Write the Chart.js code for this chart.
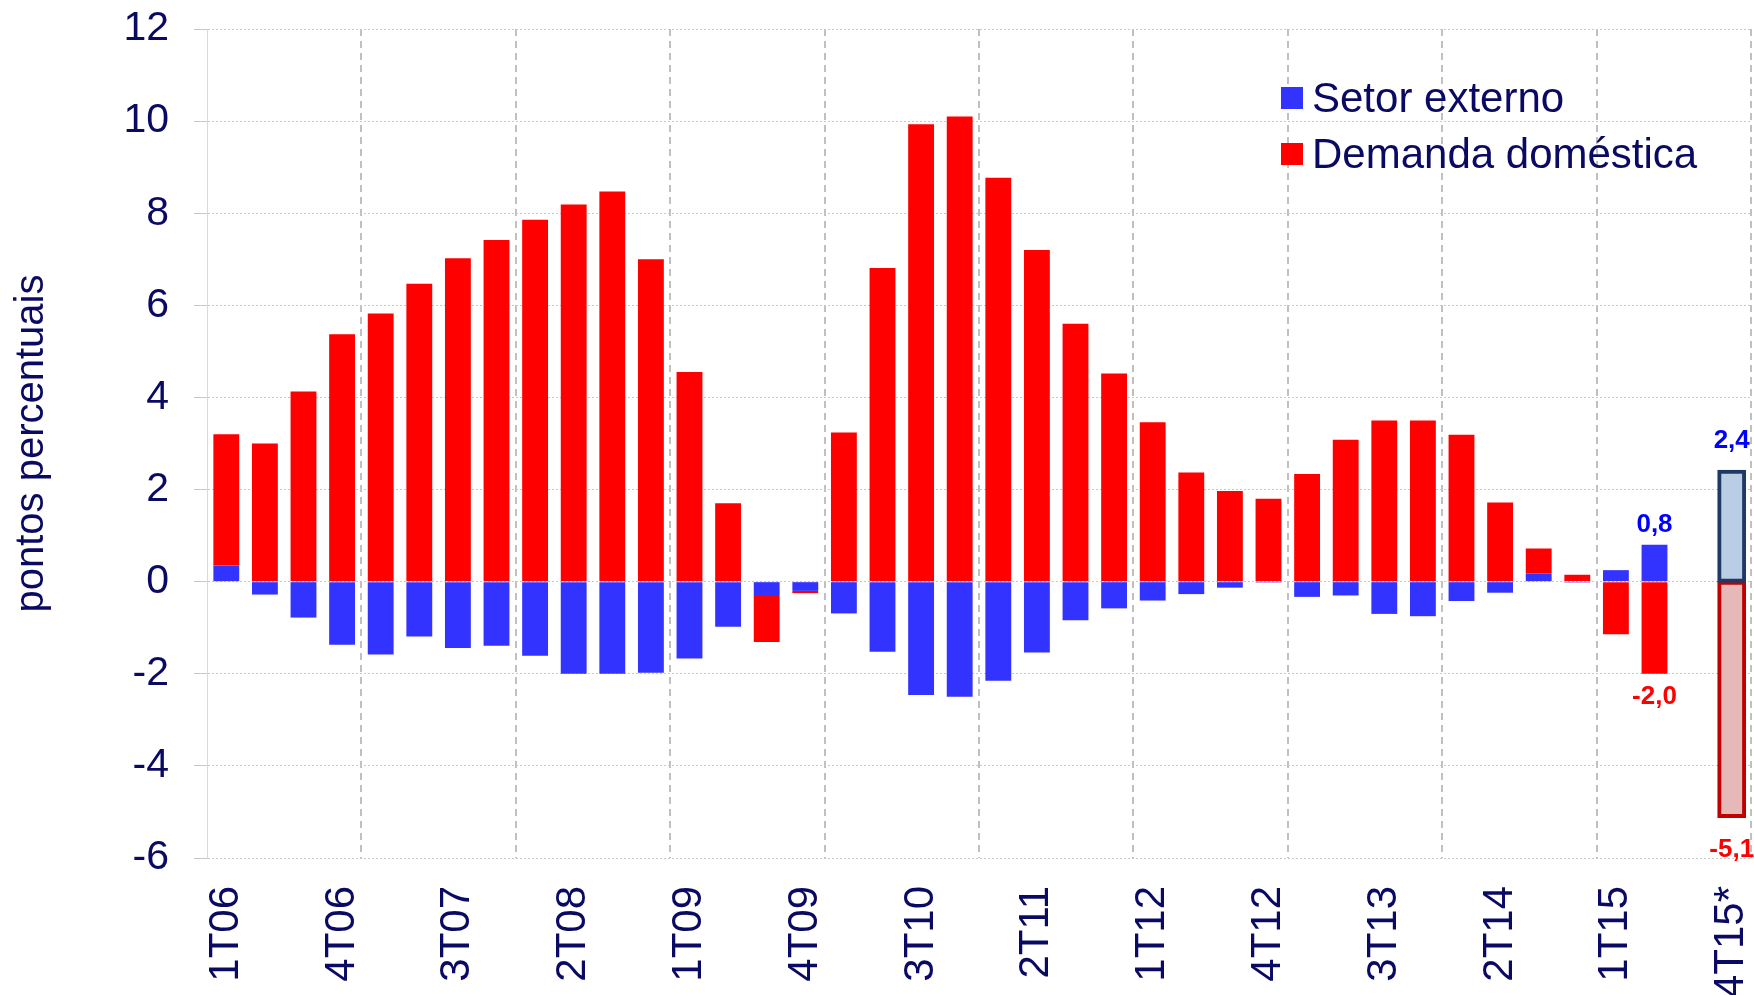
<!DOCTYPE html>
<html lang="pt-BR">
<head>
<meta charset="utf-8">
<title>Contribuição para o crescimento do PIB</title>
<script src="https://cdn.jsdelivr.net/npm/chart.js@4.4.1/dist/chart.umd.min.js"></script>
<style>
    html, body { margin: 0; padding: 0; background: #fff; overflow: hidden; }
    #wrap { position: relative; width: 1754px; height: 995px; }
    #legend { position: absolute; left: 1281px; top: 70px; font-family: 'Liberation Sans', Arial, sans-serif; font-size: 42px; color: #0a0a64; }
    #legend .item { display: flex; align-items: center; height: 56px; line-height: 56px; white-space: nowrap; }
    #legend .box { display: inline-block; width: 22px; height: 22px; margin-right: 9px; }
</style>
</head>
<body>
<div id="wrap">
    <canvas id="chart-contrib"></canvas>
    <div id="legend"></div>
</div>
<script>
const categories = [
    '1T06', '2T06', '3T06', '4T06', '1T07', '2T07', '3T07', '4T07',
    '1T08', '2T08', '3T08', '4T08', '1T09', '2T09', '3T09', '4T09',
    '1T10', '2T10', '3T10', '4T10', '1T11', '2T11', '3T11', '4T11',
    '1T12', '2T12', '3T12', '4T12', '1T13', '2T13', '3T13', '4T13',
    '1T14', '2T14', '3T14', '4T14', '1T15', '2T15', '3T15', '4T15*'
];

// contribuição em p.p. (demanda doméstica empilhada sobre o setor externo)
const setorExterno = [
    0.35, -0.28, -0.78, -1.37, -1.58, -1.19, -1.44, -1.39,
    -1.61, -2.0, -2.0, -1.98, -1.67, -0.98, -0.29, -0.2,
    -0.69, -1.52, -2.46, -2.5, -2.15, -1.54, -0.84, -0.58,
    -0.41, -0.27, -0.13, -0.02, -0.33, -0.3, -0.7, -0.75,
    -0.42, -0.24, 0.18, -0.02, 0.25, 0.8, null, 2.4
];
const demandaDomestica = [
    2.85, 3.0, 4.13, 5.37, 5.82, 6.47, 7.02, 7.42,
    7.86, 8.19, 8.47, 7.0, 4.55, 1.7, -1.02, -0.05,
    3.24, 6.81, 9.93, 10.1, 8.77, 7.2, 5.6, 4.52,
    3.46, 2.37, 1.97, 1.8, 2.34, 3.08, 3.5, 3.5,
    3.19, 1.72, 0.54, 0.15, -1.14, -2.0, null, -5.1
];

const yMin = -6;
const yMax = 12;
const yStep = 2;

const projection = '4T15*';
const labeledBars = ['2T15', '4T15*'];

const navy = '#0a0a64';
const isProj = i => categories[i] === projection;

Chart.defaults.font.family = "'Liberation Sans', Arial, sans-serif";
Chart.defaults.color = navy;

const barLabels = {
    id: 'barLabels',
    afterDatasetsDraw(chart) {
        const { ctx } = chart;
        ctx.save();
        ctx.font = "bold 26px 'Liberation Sans', Arial, sans-serif";
        ctx.textAlign = 'center';
        chart.data.datasets.forEach((ds, di) => {
            const meta = chart.getDatasetMeta(di);
            labeledBars.forEach(cat => {
                const i = categories.indexOf(cat);
                const v = ds.data[i];
                const bar = meta.data[i];
                if (v == null || !bar) return;
                const bw = isProj(i) ? 4 : 0;
                const y = v >= 0 ? bar.y - 13 - 2.5 * bw : bar.y + 30 + 2.5 * bw;
                ctx.fillStyle = ds.labelColor;
                ctx.fillText(v.toFixed(1).replace('.', ','), bar.x, y);
            });
        });
        ctx.restore();
    }
};

const chart = new Chart(document.getElementById('chart-contrib'), {
    type: 'bar',
    data: {
        labels: categories,
        datasets: [
            {
                label: 'Setor externo',
                data: setorExterno,
                backgroundColor: c => isProj(c.dataIndex) ? '#b9cde5' : '#3333ff',
                borderColor: c => isProj(c.dataIndex) ? '#1f3864' : '#3333ff',
                borderWidth: c => isProj(c.dataIndex) ? 4 : 0,
                inflateAmount: c => isProj(c.dataIndex) ? 1.5 : 'auto',
                borderSkipped: false,
                legendColor: '#3333ff',
                labelColor: '#0000ff',
            },
            {
                label: 'Demanda doméstica',
                data: demandaDomestica,
                backgroundColor: c => isProj(c.dataIndex) ? '#e6b9b8' : '#ff0000',
                borderColor: c => isProj(c.dataIndex) ? '#c00000' : '#ff0000',
                borderWidth: c => isProj(c.dataIndex) ? 4 : 0,
                inflateAmount: c => isProj(c.dataIndex) ? 1.5 : 'auto',
                borderSkipped: false,
                legendColor: '#ff0000',
                labelColor: '#ff0000',
            }
        ]
    },
    options: {
        responsive: true,
        maintainAspectRatio: false,
        animation: false,
        layout: { padding: { top: 29, right: 3, left: 0, bottom: 0 } },
        datasets: { bar: { categoryPercentage: 1, barPercentage: 0.67 } },
        scales: {
            x: {
                stacked: true,
                grid: {
                    offset: true,
                    drawTicks: false,
                    lineWidth: 2,
                    color: c => (c.index === undefined || (c.index > 0 && c.index % 4 === 0)) ? '#c0c0c0' : 'transparent',
                },
                border: { display: false, dash: [7, 5] },
                ticks: {
                    autoSkip: false,
                    minRotation: 90,
                    maxRotation: 90,
                    padding: 28,
                    font: { size: 42 },
                    callback: (v, i) => i % 3 === 0 ? categories[i] : '',
                },
                afterFit: s => { s.height = 137; s.paddingLeft = 0; s.paddingRight = 0; },
            },
            y: {
                stacked: true,
                min: yMin,
                max: yMax,
                ticks: { stepSize: yStep, padding: 25, font: { size: 41 } },
                grid: { color: '#c8c8c8', lineWidth: 1, tickLength: 13 },
                border: { display: true, color: '#d9d9d9', width: 1, dash: [2, 2] },
                title: { display: true, text: 'pontos percentuais', font: { size: 40 }, padding: { top: 8, bottom: 0 } },
                afterFit: s => { s.width = 207; s.paddingTop = 0; s.paddingBottom = 0; },
            }
        },
        plugins: {
            legend: { display: false },
        }
    },
    plugins: [barLabels]
});

// legenda em HTML, empilhada no canto superior direito
const legendEl = document.getElementById('legend');
chart.data.datasets.forEach(ds => {
    const item = document.createElement('div');
    item.className = 'item';
    const box = document.createElement('span');
    box.className = 'box';
    box.style.background = ds.legendColor;
    item.appendChild(box);
    item.appendChild(document.createTextNode(ds.label));
    legendEl.appendChild(item);
});
</script>
</body>
</html>
